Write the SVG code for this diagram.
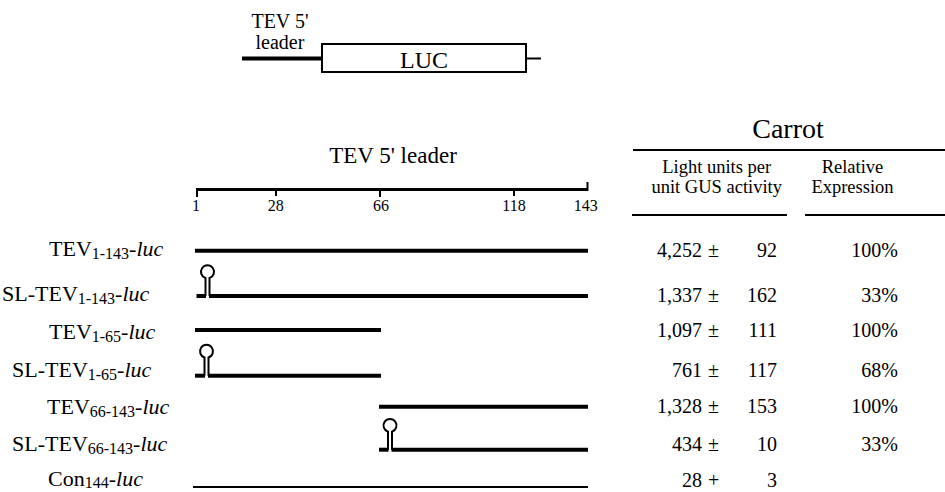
<svg xmlns="http://www.w3.org/2000/svg" width="945" height="492" viewBox="0 0 945 492">
<style>
text{font-family:"Liberation Serif","Times New Roman",serif;fill:#000}
.lbl{font-size:22px}
.sub{font-size:16px}
.it{font-style:italic}
.hdr{font-size:18.5px;text-anchor:middle}
.tick{font-size:16px;text-anchor:middle}
.num{font-size:20px}
.end{text-anchor:end}
.thick{stroke:#000;stroke-width:4;fill:none}
.thin{stroke:#000;stroke-width:2;fill:none}
.sl{stroke:#000;stroke-width:2;fill:none}
</style>
<defs>
<path id="loop" d="M-2,0 V-18 A6.5,6.5 0 1 1 2,-18 V0"/>
</defs>

<g id="schematic">
<text x="280" y="28" text-anchor="middle" style="font-size:20px">TEV 5'</text>
<text x="280" y="49" text-anchor="middle" style="font-size:20px">leader</text>
<line x1="242" y1="58.5" x2="322" y2="58.5" class="thick"/>
<rect x="322" y="44" width="204" height="28" fill="#fff" stroke="#000" stroke-width="2"/>
<line x1="527" y1="58.5" x2="541" y2="58.5" class="thin"/>
<text x="424" y="68" text-anchor="middle" style="font-size:24px">LUC</text>
</g>

<g id="ruler">
<text x="393" y="163" text-anchor="middle" style="font-size:23px">TEV 5' leader</text>
<line x1="196" y1="189.5" x2="588" y2="189.5" stroke="#000" stroke-width="3"/>
<line x1="197" y1="188" x2="197" y2="197" class="thin"/>
<line x1="276" y1="188" x2="276" y2="196" class="thin"/>
<line x1="380" y1="188" x2="380" y2="197" class="thin"/>
<line x1="514" y1="188" x2="514" y2="196" class="thin"/>
<line x1="587.5" y1="182" x2="587.5" y2="191" class="thin"/>
<text x="196" y="210.5" class="tick">1</text>
<text x="275.7" y="210.5" class="tick">28</text>
<text x="381" y="210.5" class="tick">66</text>
<text x="514" y="210.5" class="tick">118</text>
<text x="585.7" y="210.5" class="tick">143</text>
</g>

<g id="labels">
<text x="49" y="256" class="lbl">TEV<tspan class="sub" dy="3">1-143</tspan><tspan dy="-3" class="it">-luc</tspan></text>
<text x="2" y="301" class="lbl">SL-TEV<tspan class="sub" dy="3">1-143</tspan><tspan dy="-3" class="it">-luc</tspan></text>
<text x="49" y="339" class="lbl">TEV<tspan class="sub" dy="3">1-65</tspan><tspan dy="-3" class="it">-luc</tspan></text>
<text x="12" y="377" class="lbl">SL-TEV<tspan class="sub" dy="3">1-65</tspan><tspan dy="-3" class="it">-luc</tspan></text>
<text x="47" y="414" class="lbl">TEV<tspan class="sub" dy="3">66-143</tspan><tspan dy="-3" class="it">-luc</tspan></text>
<text x="12" y="451" class="lbl">SL-TEV<tspan class="sub" dy="3">66-143</tspan><tspan dy="-3" class="it">-luc</tspan></text>
<text x="48" y="486" class="lbl">Con<tspan class="sub" dy="2">144</tspan><tspan dy="-2" class="it">-luc</tspan></text>
</g>

<g id="constructs">
<line x1="195" y1="250.7" x2="588" y2="250.7" class="thick"/>
<g id="sl1">
<line x1="196.5" y1="296" x2="206" y2="296" class="thick"/>
<line x1="209" y1="296" x2="588" y2="296" class="thick"/>
<use href="#loop" x="207.5" y="296" class="sl"/>
</g>
<line x1="195" y1="330" x2="381" y2="330" class="thick"/>
<g id="sl2">
<line x1="195" y1="375.7" x2="205" y2="375.7" class="thick"/>
<line x1="208" y1="375.7" x2="381" y2="375.7" class="thick"/>
<path d="M204.5,375.7 V357.5 A6.5,6.5 0 1 1 208.5,357.5 V375.7" class="sl"/>
</g>
<line x1="379" y1="406.7" x2="588" y2="406.7" class="thick"/>
<g id="sl3">
<line x1="379" y1="449.7" x2="388.5" y2="449.7" class="thick"/>
<line x1="391.5" y1="449.7" x2="588" y2="449.7" class="thick"/>
<use href="#loop" x="390" y="449.7" class="sl"/>
</g>
<line x1="193" y1="487" x2="588" y2="487" class="thin"/>
</g>

<g id="table">
<text x="788" y="138" text-anchor="middle" style="font-size:28px">Carrot</text>
<line x1="633" y1="150" x2="945" y2="150" class="thin"/>
<text x="716.7" y="173" class="hdr">Light units per</text>
<text x="716.7" y="193" class="hdr">unit GUS activity</text>
<text x="852.5" y="173" class="hdr">Relative</text>
<text x="852.5" y="193" class="hdr">Expression</text>
<line x1="632" y1="215" x2="787" y2="215" class="thin"/>
<line x1="805" y1="215" x2="945" y2="215" class="thin"/>

<g class="num">
<text x="702" y="257" class="num end">4,252</text><text x="708" y="257" class="num">±</text><text x="777" y="257" class="num end">92</text><text x="898" y="257" class="num end">100%</text>
<text x="702" y="302" class="num end">1,337</text><text x="708" y="302" class="num">±</text><text x="777" y="302" class="num end">162</text><text x="898" y="302" class="num end">33%</text>
<text x="702" y="337" class="num end">1,097</text><text x="708" y="337" class="num">±</text><text x="777" y="337" class="num end">111</text><text x="898" y="337" class="num end">100%</text>
<text x="702" y="377" class="num end">761</text><text x="708" y="377" class="num">±</text><text x="777" y="377" class="num end">117</text><text x="898" y="377" class="num end">68%</text>
<text x="702" y="413" class="num end">1,328</text><text x="708" y="413" class="num">±</text><text x="777" y="413" class="num end">153</text><text x="898" y="413" class="num end">100%</text>
<text x="702" y="451" class="num end">434</text><text x="708" y="451" class="num">±</text><text x="777" y="451" class="num end">10</text><text x="898" y="451" class="num end">33%</text>
<text x="702" y="487" class="num end">28</text><text x="708" y="487" class="num">+</text><text x="777" y="487" class="num end">3</text>
</g>
</g>
</svg>
